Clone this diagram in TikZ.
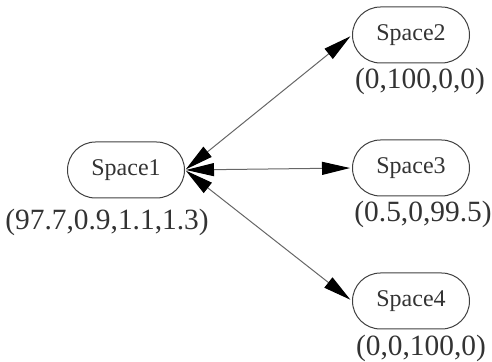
\documentclass[tikz,border=0pt]{standalone}
\usepackage{fontspec}
\setmainfont{Liberation Serif}
\usetikzlibrary{positioning,arrows.meta,shapes.misc}

\begin{document}
\begin{tikzpicture}[x=0.5pt, y=-0.5pt, >={Triangle[length=14pt,width=6.5pt,color=black]},
  space/.style={draw, rounded rectangle, minimum width=58.5pt, minimum height=28pt, inner sep=0pt, line width=0.5pt, draw=black!75, text=black!80, font=\fontsize{12}{14}\selectfont},
  tag/.style={inner sep=0pt, text=black!80, font=\fontsize{14.7}{17}\selectfont},
  link/.style={<->, black!60, line width=0.5pt, shorten <=0.5pt, shorten >=1pt}]
\useasboundingbox (0,0) rectangle (492,362);
\node[space] (s1) at (126,170) {Space1};
\node[space] (s2) at (411,35) {Space2};
\node[space] (s3) at (411,168) {Space3};
\node[space] (s4) at (411,301) {Space4};

\node[tag] (t1) at (107,222) {(97.7,0.9,1.1,1.3)};
\node[tag] (t2) at (420,81) {(0,100,0,0)};
\node[tag] (t3) at (423,214) {(0.5,0,99.5)};
\node[tag] (t4) at (421,348) {(0,0,100,0)};

\draw[link] (s1.east) -- (s2.west);
\draw[link] (s1.east) -- (s3.west);
\draw[link] (s1.east) -- (s4.west);
\end{tikzpicture}
\end{document}
